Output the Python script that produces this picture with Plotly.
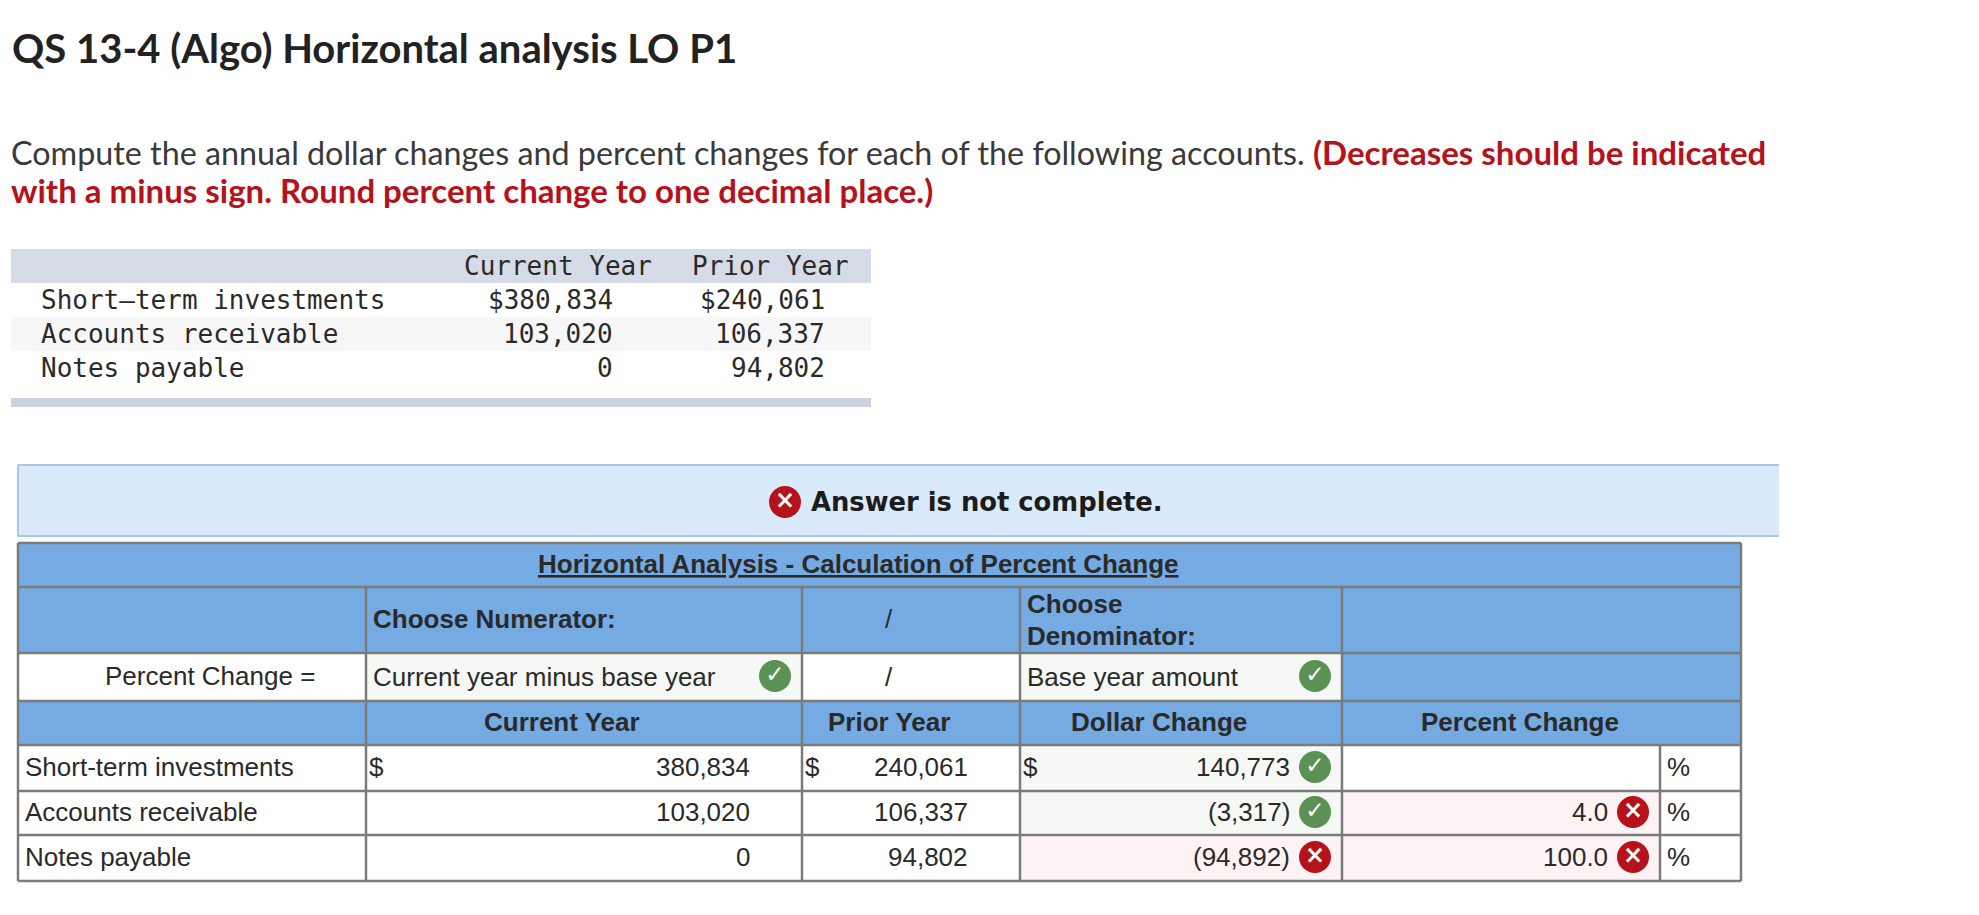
"""
Recrea la captura del ejercicio QS 13-4 (análisis horizontal) con Plotly.
"""

import plotly.graph_objects as go


# Datos de la tabla superior y de la tabla de respuestas.
CUENTAS = ["Short-term investments", "Accounts receivable", "Notes payable"]
CURRENT_YEAR = [380834, 103020, 0]
PRIOR_YEAR = [240061, 106337, 94802]
DOLLAR_CHANGE = [140773, -3317, -94892]
PERCENT_CHANGE = [None, 4.0, 100.0]
DOLLAR_OK = [True, True, False]
PERCENT_OK = [None, False, False]

TITULO = "QS 13-4 (Algo) Horizontal analysis LO P1"
INSTRUCCION = "Compute the annual dollar changes and percent changes for each of the following accounts."
AVISO_1 = "(Decreases should be indicated"
AVISO_2 = "with a minus sign. Round percent change to one decimal place.)"

# Colores.
AZUL = "#76aae3"
GRIS = "#7b7b7b"
VERDE_CLARO = "#f6f8f5"
ROSA = "#fdf3f4"
ROJO = "#b5121b"
VERDE = "#5b9155"
TEXTO = "#2a2a2a"
BORDE_AVISO = "#a7c8e8"

# Geometría de la tabla de respuestas, en pixeles de la captura.
COLS = [18, 366, 802, 1020, 1342, 1660, 1741]
FILAS = [543, 587, 653, 701, 745, 791, 835, 881]
FILAS_Y = [767, 812, 857]

SANS = "Liberation Sans"
MONO = "DejaVu Sans Mono"
PROXIMA = "Lato"

fig = go.Figure()


def caja(x0, x1, y0, y1, color):
    fig.add_shape(
        type="rect",
        x0=x0,
        x1=x1,
        y0=y0,
        y1=y1,
        fillcolor=color,
        line_color=color,
        line_width=0,
        layer="below",
    )


def linea(x0, x1, y0, y1, color=GRIS, ancho=2.5):
    fig.add_shape(
        type="line", x0=x0, x1=x1, y0=y0, y1=y1, line_color=color, line_width=ancho
    )


def texto(x, y, s, size=26, anchor="left", font=SANS, color=TEXTO):
    fig.add_annotation(
        x=x,
        y=y,
        text=s,
        showarrow=False,
        xanchor=anchor,
        yanchor="middle",
        font=dict(family=font, size=size, color=color),
    )


def miles(v):
    return f"{v:,.0f}"


def cambio(v):
    return f"({abs(v):,.0f})" if v < 0 else f"{v:,.0f}"


# Encabezado del ejercicio.
texto(10, 48, f"<b>{TITULO}</b>", size=40, font=PROXIMA, color="#222222")
texto(9, 152, INSTRUCCION, size=32.3, font=PROXIMA, color="#3a3a3a")
texto(1311, 152, f"<b>{AVISO_1}</b>", size=33, font=PROXIMA, color=ROJO)
texto(9, 190, f"<b>{AVISO_2}</b>", size=33, font=PROXIMA, color=ROJO)

# Tabla superior.
caja(11, 871, 249, 283, "#d6dbe8")
caja(11, 871, 317, 351, "#f7f7f7")
caja(11, 871, 398, 407, "#ccd3df")
texto(558, 266, "Current Year", anchor="center", font=MONO)
texto(770, 266, "Prior Year", anchor="center", font=MONO)
for i, cuenta in enumerate(CUENTAS):
    y = 300 + 34 * i
    pesos = "$" if i == 0 else ""
    texto(39, y, cuenta.replace("-", "–"), font=MONO)
    texto(615, y, pesos + miles(CURRENT_YEAR[i]), anchor="right", font=MONO)
    texto(827, y, pesos + miles(PRIOR_YEAR[i]), anchor="right", font=MONO)

# Banda de aviso: el borde derecho no existe en la captura.
caja(18, 1779, 465, 536, "#d9eafa")
linea(18, 1779, 465, 465, BORDE_AVISO, 2)
linea(18, 1779, 536, 536, BORDE_AVISO, 2)
linea(18, 18, 465, 536, BORDE_AVISO, 2)
texto(809, 502, "<b>Answer is not complete.</b>", size=25.8, font="DejaVu Sans", color="#1c1c1c")

# Relleno de la tabla de respuestas.
caja(COLS[0], COLS[6], FILAS[0], FILAS[2], AZUL)
caja(COLS[4], COLS[6], FILAS[2], FILAS[3], AZUL)
caja(COLS[0], COLS[6], FILAS[3], FILAS[4], AZUL)
caja(COLS[1], COLS[2], FILAS[2], FILAS[3], VERDE_CLARO)
caja(COLS[3], COLS[4], FILAS[2], FILAS[3], VERDE_CLARO)
for i in range(3):
    color = VERDE_CLARO if DOLLAR_OK[i] else ROSA
    caja(COLS[3], COLS[4], FILAS[4 + i], FILAS[5 + i], color)
    if PERCENT_OK[i] is False:
        caja(COLS[4], COLS[5], FILAS[4 + i], FILAS[5 + i], ROSA)

# Líneas de la tabla de respuestas.
for y in FILAS:
    linea(COLS[0], COLS[6], y, y)
linea(COLS[0], COLS[0], FILAS[0], FILAS[7])
linea(COLS[6], COLS[6], FILAS[0], FILAS[7])
for x in COLS[1:5]:
    linea(x, x, FILAS[1], FILAS[7])
linea(COLS[5], COLS[5], FILAS[4], FILAS[7])

# Textos de la tabla de respuestas.
texto(858, 564, "<b><u>Horizontal Analysis - Calculation of Percent Change</u></b>", anchor="center")
texto(371, 619, "<b>Choose Numerator:</b>")
texto(889, 619, "/", anchor="center")
texto(1025, 604, "<b>Choose</b>")
texto(1025, 636, "<b>Denominator:</b>")
texto(209.5, 676, "Percent Change =", anchor="center")
texto(371, 677, "Current year minus base year")
texto(889, 677, "/", anchor="center")
texto(1025, 677, "Base year amount")
texto(562, 722, "<b>Current Year</b>", anchor="center")
texto(889, 722, "<b>Prior Year</b>", anchor="center")
texto(1159, 722, "<b>Dollar Change</b>", anchor="center")
texto(1520, 722, "<b>Percent Change</b>", anchor="center")

for i, y in enumerate(FILAS_Y):
    texto(23, y, CUENTAS[i])
    texto(752, y, miles(CURRENT_YEAR[i]), anchor="right")
    texto(970, y, miles(PRIOR_YEAR[i]), anchor="right")
    texto(1292, y, cambio(DOLLAR_CHANGE[i]), anchor="right")
    if PERCENT_CHANGE[i] is not None:
        texto(1610, y, f"{PERCENT_CHANGE[i]:.1f}", anchor="right")
    texto(1665, y, "%")
texto(367, FILAS_Y[0], "$")
texto(803, FILAS_Y[0], "$")
texto(1021, FILAS_Y[0], "$")

# Iconos de correcto e incorrecto.
bien_x = [775, 1315]
bien_y = [676, 676]
mal_x = [785]
mal_y = [502]
for i, y in enumerate(FILAS_Y):
    if DOLLAR_OK[i]:
        bien_x.append(1315)
        bien_y.append(y)
    else:
        mal_x.append(1315)
        mal_y.append(y)
    if PERCENT_OK[i] is False:
        mal_x.append(1633)
        mal_y.append(y)

fig.add_trace(
    go.Scatter(
        x=bien_x,
        y=bien_y,
        mode="markers+text",
        marker=dict(size=32, color=VERDE),
        text=["<b>✓</b>"] * len(bien_x),
        textposition="middle center",
        textfont=dict(family="DejaVu Sans", size=23, color="#ffffff"),
        hoverinfo="skip",
    )
)
fig.add_trace(
    go.Scatter(
        x=mal_x,
        y=mal_y,
        mode="markers+text",
        marker=dict(size=32, color=ROJO),
        text=["<b>×</b>"] * len(mal_x),
        textposition="middle center",
        textfont=dict(family="DejaVu Sans", size=24, color="#ffffff"),
        hoverinfo="skip",
    )
)

# El navegador deja 8 px de margen en el body: la figura se ajusta a ese hueco
# para que las coordenadas sigan siendo las de la captura.
fig.update_xaxes(range=[8, 1971], visible=False, fixedrange=True)
fig.update_yaxes(range=[907, 8], visible=False, fixedrange=True)

fig.update_layout(
    showlegend=False,
    width=1963,
    height=899,
    margin=dict(l=0, r=0, t=0, b=0),
    plot_bgcolor="#ffffff",
    paper_bgcolor="#ffffff",
)

fig.write_html("out.html")
